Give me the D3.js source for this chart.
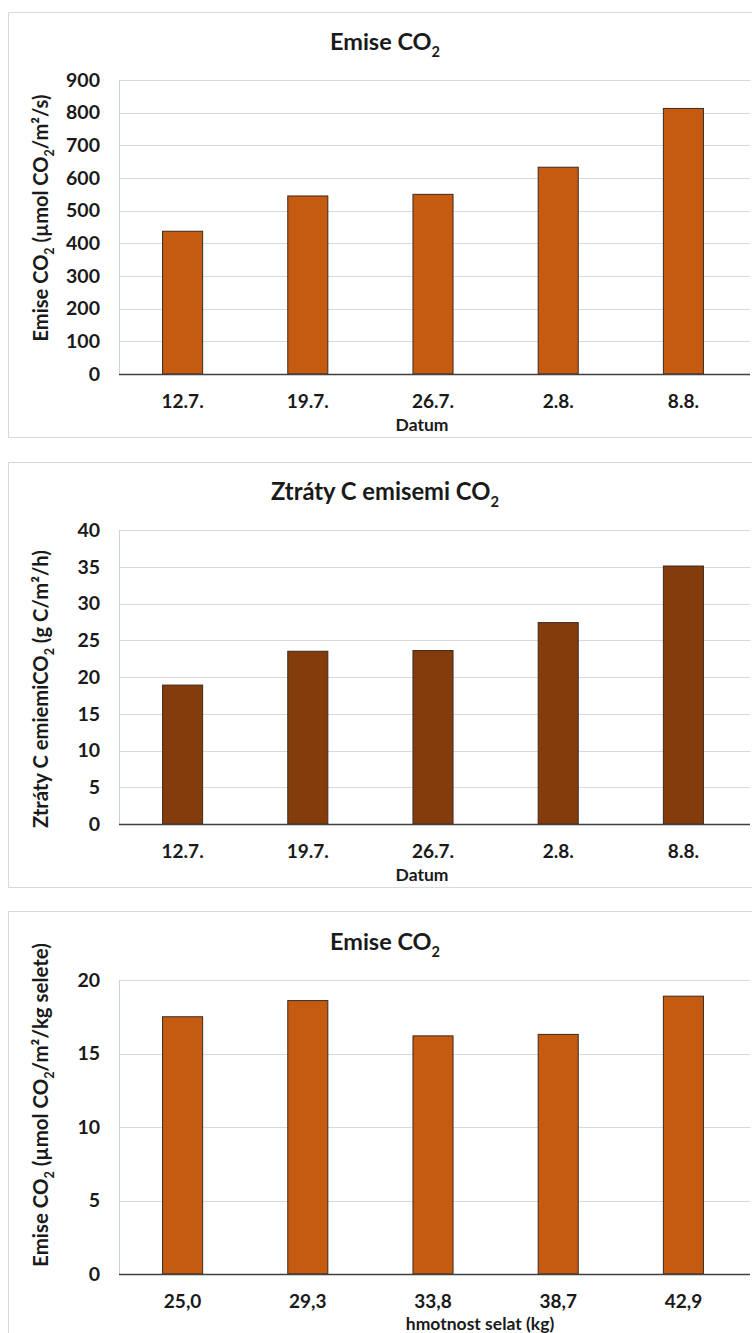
<!DOCTYPE html>
<html>
<head>
<meta charset="utf-8">
<script src="https://cdn.jsdelivr.net/npm/d3@7"></script>
<style>
  html, body { margin: 0; padding: 0; background: #fff; }
  svg text { font-family: Lato, "Open Sans", sans-serif; font-weight: 700; fill: #1a1a1a; }
</style>
</head>
<body>
<svg id="chart" width="752" height="1333"></svg>
<script>
// ---- data ----
const dates = ["12.7.", "19.7.", "26.7.", "2.8.", "8.8."];
const weights = ["25,0", "29,3", "33,8", "38,7", "42,9"];
const emiseCO2 = [437, 545, 550, 633, 813];
const ztratyC = [18.9, 23.5, 23.6, 27.4, 35.1];
const emisePerKg = [17.5, 18.6, 16.2, 16.3, 18.9];
const ticks1 = [0, 100, 200, 300, 400, 500, 600, 700, 800, 900];
const ticks2 = [0, 5, 10, 15, 20, 25, 30, 35, 40];
const ticks3 = [0, 5, 10, 15, 20];

const svg = d3.select("#chart");

// parts: [string, isSub]; subscript sizes are relative to the parent text
function richText(sel, parts) {
  let shifted = false;
  parts.forEach(p => {
    const t = sel.append("tspan").text(p[0]);
    if (p[1]) {
      t.attr("font-size", "62%").attr("dy", "0.45em");
      shifted = true;
    } else if (shifted) {
      t.attr("dy", "-0.279em");
      shifted = false;
    }
  });
}

// scale a text's font size so that its drawn length matches the target (capped)
function fitText(sel, base, target, maxSize) {
  sel.attr("font-size", base);
  const len = sel.node().getComputedTextLength();
  if (len > 0) {
    let s = base * target / len;
    if (maxSize) s = Math.min(s, maxSize);
    sel.attr("font-size", s.toFixed(2));
  }
}

function drawChart(cfg) {
  const g = svg.append("g").attr("transform", `translate(0,${cfg.offset})`);
  g.append("rect").attr("x", 8.5).attr("y", cfg.frameTop).attr("width", 800)
    .attr("height", cfg.frameH).attr("fill", "none").attr("stroke", "#d9d9d9").attr("stroke-width", 1);

  const x = d3.scaleBand().domain(cfg.cats).range([120, 746]).paddingInner(0.68).paddingOuter(0.34);
  const y = d3.scaleLinear().domain([0, cfg.max]).range([374, 80]);

  g.append("g").selectAll("line").data(cfg.ticks.filter(d => d > 0)).join("line")
    .attr("x1", 120).attr("x2", 750)
    .attr("y1", d => Math.round(y(d)) + 0.5).attr("y2", d => Math.round(y(d)) + 0.5)
    .attr("stroke", "#d9d9d9").attr("stroke-width", 1);

  g.append("line").attr("x1", 119.5).attr("x2", 119.5).attr("y1", y(cfg.max)).attr("y2", y(0))
    .attr("stroke", "#c9d3da").attr("stroke-width", 1);

  const yAxis = d3.axisLeft(y).tickValues(cfg.ticks).tickSize(0).tickPadding(20);
  const ya = g.append("g").attr("transform", "translate(120,0)").call(yAxis);
  ya.select(".domain").remove();
  ya.selectAll("text").attr("font-size", 19.5).attr("font-family", "Lato, sans-serif").attr("fill", "#1a1a1a");

  g.append("g").selectAll("rect").data(cfg.values).join("rect")
    .attr("x", (d, i) => x(cfg.cats[i]))
    .attr("width", x.bandwidth())
    .attr("y", d => y(d))
    .attr("height", d => y(0) - y(d))
    .attr("fill", cfg.color)
    .attr("stroke", "#3d2a1e").attr("stroke-width", 1);

  g.append("line").attr("x1", 119).attr("x2", 750).attr("y1", 374.5).attr("y2", 374.5)
    .attr("stroke", "#404040").attr("stroke-width", 1.3);

  const xAxis = d3.axisBottom(x).tickSize(0).tickPadding(0);
  const xa = g.append("g").attr("transform", "translate(0,374)").call(xAxis);
  xa.select(".domain").remove();
  xa.selectAll("text").attr("font-size", 19).attr("font-family", "Lato, sans-serif")
    .attr("fill", "#1a1a1a").attr("dy", null).attr("y", 34);

  const xt = g.append("text").attr("x", cfg.xTitleX).attr("y", cfg.xTitleY).attr("text-anchor", "middle")
    .text(cfg.xTitle);
  fitText(xt, 17, cfg.xTitleLen, 17.5);

  const t = g.append("text").attr("x", 385).attr("y", 50).attr("text-anchor", "middle");
  richText(t, cfg.title);
  fitText(t, 20, cfg.titleLen);

  const yt = g.append("text").attr("transform", `translate(${cfg.yTitleX},${cfg.yTitleY}) rotate(-90)`)
    .attr("text-anchor", "middle");
  richText(yt, cfg.yTitle);
  fitText(yt, 16, cfg.yTitleLen);
}

drawChart({
  offset: 0, frameTop: 12.5, frameH: 425,
  cats: dates, values: emiseCO2, max: 900, ticks: ticks1, color: "#c55a11",
  title: [["Emise CO", false], ["2", true]], titleLen: 110,
  yTitle: [["Emise CO", false], ["2", true], [" (\u00b5mol CO", false], ["2", true], ["/m\u00b2/s)", false]],
  yTitleX: 48, yTitleY: 218, yTitleLen: 247,
  xTitle: "Datum", xTitleX: 422, xTitleY: 431, xTitleLen: 60
});

drawChart({
  offset: 450, frameTop: 12.5, frameH: 425,
  cats: dates, values: ztratyC, max: 40, ticks: ticks2, color: "#843c0c",
  title: [["Ztráty C emisemi CO", false], ["2", true]], titleLen: 228,
  yTitle: [["Ztráty C emiemiCO", false], ["2", true], [" (g C/m\u00b2/h)", false]],
  yTitleX: 48, yTitleY: 239, yTitleLen: 278,
  xTitle: "Datum", xTitleX: 422, xTitleY: 431, xTitleLen: 60
});

drawChart({
  offset: 900, frameTop: 11.5, frameH: 500,
  cats: weights, values: emisePerKg, max: 20, ticks: ticks3, color: "#c55a11",
  title: [["Emise CO", false], ["2", true]], titleLen: 110,
  yTitle: [["Emise CO", false], ["2", true], [" (\u00b5mol CO", false], ["2", true], ["/m\u00b2/kg selete)", false]],
  yTitleX: 48, yTitleY: 205, yTitleLen: 324,
  xTitle: "hmotnost selat (kg)", xTitleX: 480, xTitleY: 430, xTitleLen: 175
});
</script>
</body>
</html>
